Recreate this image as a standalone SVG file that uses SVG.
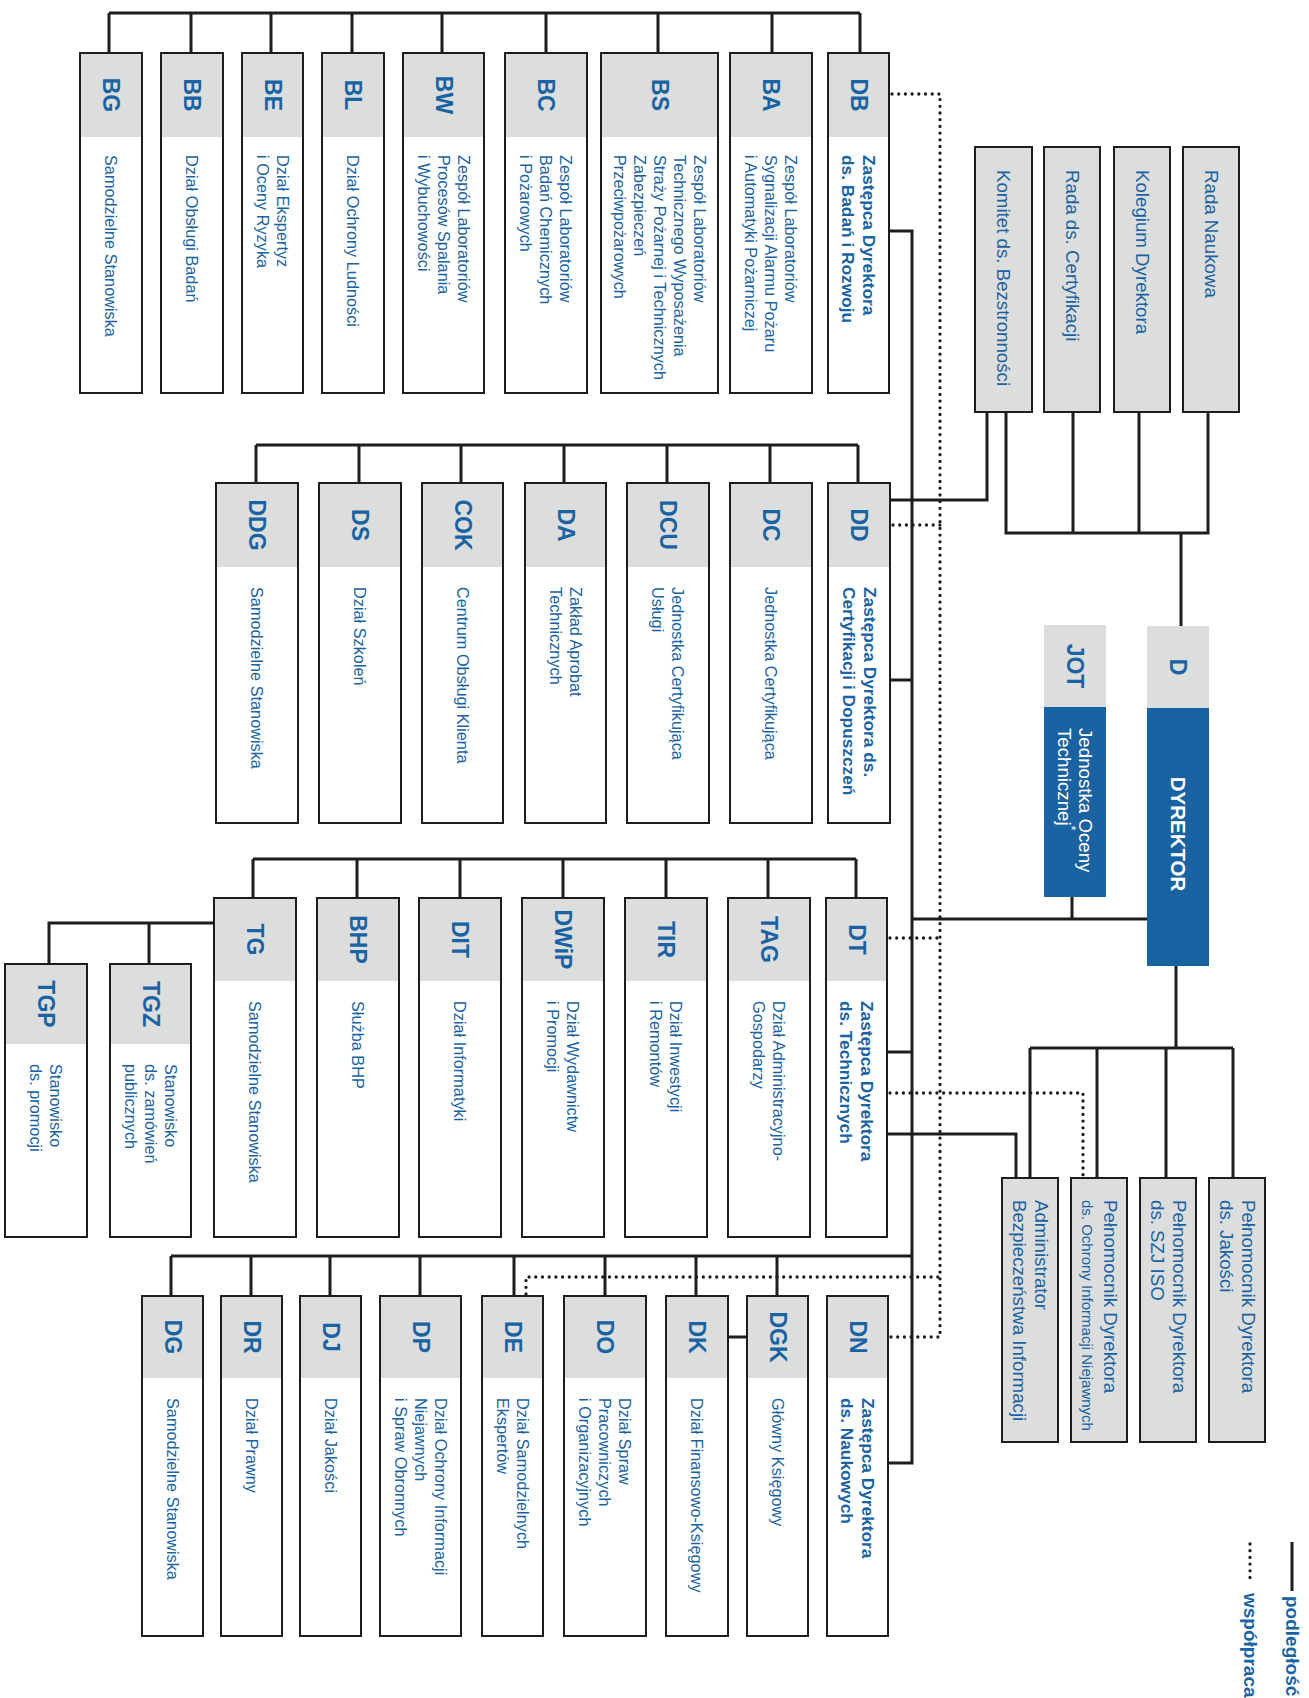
<svg xmlns="http://www.w3.org/2000/svg" width="1309" height="1698" viewBox="0 0 1309 1698">
<style>
.bx{fill:#fff;stroke:#1d1d1b;stroke-width:2}
.gb{fill:#dcdddd;stroke:#1d1d1b;stroke-width:2}
.hd{fill:#dcdddd}
.bl{fill:#1a63a2}
.ln{fill:none;stroke:#1d1d1b;stroke-width:3}
.dt{fill:none;stroke:#1d1d1b;stroke-width:3.3;stroke-dasharray:0 6.7;stroke-linecap:round}
text{font-family:"Liberation Sans",Arial,sans-serif;fill:#1a63a2;dominant-baseline:central}
.c{font-size:23px;font-weight:bold;text-anchor:middle}
.t{font-size:16.3px}
.b{font-size:17.3px;font-weight:bold}
.p{font-size:18.7px}
.s{font-size:15px}
.w{fill:#fff}
.lg{font-size:19px;font-weight:bold}
</style>
<g id="connectors">
<path class="ln" d="M109 13H860M109 13V53M191 13V53M271 13V53M352 13V53M442 13V53M546 13V53M658 13V53M772 13V53M860 13V53"/>
<path class="ln" d="M889 231H912V1463H888"/>
<path class="ln" d="M256 445H858M256 445V483M359 445V483M461 445V483M564 445V483M667 445V483M770 445V483M858 445V483"/>
<path class="ln" d="M987 412V500H890"/>
<path class="ln" d="M890 680H912"/>
<path class="ln" d="M1006 412V533H1208V412M1073 412V533M1139 412V533M1181 533V626"/>
<path class="ln" d="M1072 897V919M912 919H1147"/>
<path class="ln" d="M253 859H856M253 859V898M357 859V898M460 859V898M563 859V898M666 859V898M768 859V898M856 859V898"/>
<path class="ln" d="M214 923H49V964M149 923V964"/>
<path class="ln" d="M887 1052H912"/>
<path class="ln" d="M887 1134H1016V1178"/>
<path class="ln" d="M1176 966V1048M1030 1048H1233M1030 1048V1178M1097 1048V1178M1166 1048V1178M1233 1048V1178"/>
<path class="ln" d="M171 1256H912M171 1256V1296M251 1256V1296M330 1256V1296M420 1256V1296M514 1256V1296M605 1256V1296M696 1256V1296M777 1256V1296"/>
<path class="ln" d="M728 1337H747"/>
<path class="dt" d="M892 94H940V1337H891"/>
<path class="dt" d="M893 525H940"/>
<path class="dt" d="M890 938H940"/>
<path class="dt" d="M890 1093H1083V1178"/>
<path class="dt" d="M526 1294V1277H940"/>
</g>
<g id="BG"><rect class="bx" x="80" y="53" width="62" height="340"/><rect class="hd" x="81" y="54" width="60" height="83"/><text class="c" transform="translate(111,95) rotate(90)">BG</text><text class="t" transform="translate(111,155) rotate(90)">Samodzielne Stanowiska</text></g>
<g id="BB"><rect class="bx" x="161" y="53" width="62" height="340"/><rect class="hd" x="162" y="54" width="60" height="83"/><text class="c" transform="translate(192,95) rotate(90)">BB</text><text class="t" transform="translate(192,155) rotate(90)">Dział Obsługi Badań</text></g>
<g id="BE"><rect class="bx" x="242" y="53" width="61" height="340"/><rect class="hd" x="243" y="54" width="59" height="83"/><text class="c" transform="translate(272.5,95) rotate(90)">BE</text><text class="t" transform="translate(282.5,155) rotate(90)">Dział Ekspertyz</text><text class="t" transform="translate(262.5,155) rotate(90)">i Oceny Ryzyka</text></g>
<g id="BL"><rect class="bx" x="322" y="53" width="62" height="340"/><rect class="hd" x="323" y="54" width="60" height="83"/><text class="c" transform="translate(353,95) rotate(90)">BL</text><text class="t" transform="translate(353,155) rotate(90)">Dział Ochrony Ludności</text></g>
<g id="BW"><rect class="bx" x="403" y="53" width="81" height="340"/><rect class="hd" x="404" y="54" width="79" height="83"/><text class="c" transform="translate(443.5,95) rotate(90)">BW</text><text class="t" transform="translate(463.5,155) rotate(90)">Zespół Laboratoriów</text><text class="t" transform="translate(443.5,155) rotate(90)">Procesów Spalania</text><text class="t" transform="translate(423.5,155) rotate(90)">i Wybuchowości</text></g>
<g id="BC"><rect class="bx" x="505" y="53" width="82" height="340"/><rect class="hd" x="506" y="54" width="80" height="83"/><text class="c" transform="translate(546,95) rotate(90)">BC</text><text class="t" transform="translate(566,155) rotate(90)">Zespół Laboratoriów</text><text class="t" transform="translate(546,155) rotate(90)">Badań Chemicznych</text><text class="t" transform="translate(526,155) rotate(90)">i Pożarowych</text></g>
<g id="BS"><rect class="bx" x="601" y="53" width="117" height="340"/><rect class="hd" x="602" y="54" width="115" height="83"/><text class="c" transform="translate(659.5,95) rotate(90)">BS</text><text class="t" transform="translate(699.5,155) rotate(90)">Zespół Laboratoriów</text><text class="t" transform="translate(679.5,155) rotate(90)">Technicznego Wyposażenia</text><text class="t" transform="translate(659.5,155) rotate(90)">Straży Pożarnej i Technicznych</text><text class="t" transform="translate(639.5,155) rotate(90)">Zabezpieczeń</text><text class="t" transform="translate(619.5,155) rotate(90)">Przeciwpożarowych</text></g>
<g id="BA"><rect class="bx" x="730" y="53" width="82" height="340"/><rect class="hd" x="731" y="54" width="80" height="83"/><text class="c" transform="translate(771,95) rotate(90)">BA</text><text class="t" transform="translate(791,155) rotate(90)">Zespół Laboratoriów</text><text class="t" transform="translate(771,155) rotate(90)">Sygnalizacji Alarmu Pożaru</text><text class="t" transform="translate(751,155) rotate(90)">i Automatyki Pożarniczej</text></g>
<g id="DB"><rect class="bx" x="828" y="53" width="61" height="340"/><rect class="hd" x="829" y="54" width="59" height="83"/><text class="c" transform="translate(858.5,95) rotate(90)">DB</text><text class="b" transform="translate(869,155) rotate(90)">Zastępca Dyrektora</text><text class="b" transform="translate(848,155) rotate(90)">ds. Badań i Rozwoju</text></g>
<g id="Komitet"><rect class="gb" x="975" y="147" width="57" height="265"/><text class="p" transform="translate(1003.5,170) rotate(90)">Komitet ds. Bezstronności</text></g>
<g id="RadaCert"><rect class="gb" x="1044" y="147" width="56" height="265"/><text class="p" transform="translate(1072,170) rotate(90)">Rada ds. Certyfikacji</text></g>
<g id="Kolegium"><rect class="gb" x="1114" y="147" width="56" height="265"/><text class="p" transform="translate(1142,170) rotate(90)">Kolegium Dyrektora</text></g>
<g id="RadaNaukowa"><rect class="gb" x="1183" y="147" width="56" height="265"/><text class="p" transform="translate(1211,170) rotate(90)">Rada Naukowa</text></g>
<g id="DDG"><rect class="bx" x="216" y="483" width="82" height="340"/><rect class="hd" x="217" y="484" width="80" height="83"/><text class="c" transform="translate(257,525) rotate(90)">DDG</text><text class="t" transform="translate(257,587) rotate(90)">Samodzielne Stanowiska</text></g>
<g id="DS"><rect class="bx" x="319" y="483" width="82" height="340"/><rect class="hd" x="320" y="484" width="80" height="83"/><text class="c" transform="translate(360,525) rotate(90)">DS</text><text class="t" transform="translate(360,587) rotate(90)">Dział Szkoleń</text></g>
<g id="COK"><rect class="bx" x="422" y="483" width="81" height="340"/><rect class="hd" x="423" y="484" width="79" height="83"/><text class="c" transform="translate(462.5,525) rotate(90)">COK</text><text class="t" transform="translate(462.5,587) rotate(90)">Centrum Obsługi Klienta</text></g>
<g id="DA"><rect class="bx" x="525" y="483" width="81" height="340"/><rect class="hd" x="526" y="484" width="79" height="83"/><text class="c" transform="translate(565.5,525) rotate(90)">DA</text><text class="t" transform="translate(575.5,587) rotate(90)">Zakład Aprobat</text><text class="t" transform="translate(555.5,587) rotate(90)">Technicznych</text></g>
<g id="DCU"><rect class="bx" x="627" y="483" width="82" height="340"/><rect class="hd" x="628" y="484" width="80" height="83"/><text class="c" transform="translate(668,525) rotate(90)">DCU</text><text class="t" transform="translate(678,587) rotate(90)">Jednostka Certyfikująca</text><text class="t" transform="translate(658,587) rotate(90)">Usługi</text></g>
<g id="DC"><rect class="bx" x="730" y="483" width="82" height="340"/><rect class="hd" x="731" y="484" width="80" height="83"/><text class="c" transform="translate(771,525) rotate(90)">DC</text><text class="t" transform="translate(771,587) rotate(90)">Jednostka Certyfikująca</text></g>
<g id="DD"><rect class="bx" x="828" y="483" width="62" height="340"/><rect class="hd" x="829" y="484" width="60" height="83"/><text class="c" transform="translate(859,525) rotate(90)">DD</text><text class="b" transform="translate(869.5,587) rotate(90)">Zastępca Dyrektora ds.</text><text class="b" transform="translate(848.5,587) rotate(90)">Certyfikacji i Dopuszczeń</text></g>
<g id="JOT"><rect class="hd" x="1044" y="625" width="62" height="82"/><rect class="bl" x="1044" y="707" width="62" height="190"/><text class="c" transform="translate(1075,666) rotate(90)">JOT</text><text class="p w" transform="translate(1085,728) rotate(90)">Jednostka Oceny</text><text class="p w" transform="translate(1064,728) rotate(90)">Technicznej<tspan font-size="12" baseline-shift="super">*</tspan></text></g>
<g id="D"><rect class="hd" x="1147" y="626" width="62" height="82"/><rect class="bl" x="1147" y="708" width="62" height="258"/><text class="c" transform="translate(1178,667) rotate(90)">D</text><text class="w" font-size="20.5" font-weight="bold" text-anchor="middle" transform="translate(1178,834) rotate(90)">DYREKTOR</text></g>
<g id="TGP"><rect class="bx" x="5" y="964" width="82" height="273"/><rect class="hd" x="6" y="965" width="80" height="79"/><text class="c" transform="translate(46,1004) rotate(90)">TGP</text><text class="t" transform="translate(56,1064) rotate(90)">Stanowisko</text><text class="t" transform="translate(36,1064) rotate(90)">ds. promocji</text></g>
<g id="TGZ"><rect class="bx" x="110" y="964" width="81" height="273"/><rect class="hd" x="111" y="965" width="79" height="79"/><text class="c" transform="translate(150.5,1004) rotate(90)">TGZ</text><text class="t" transform="translate(170.5,1064) rotate(90)">Stanowisko</text><text class="t" transform="translate(150.5,1064) rotate(90)">ds. zamówień</text><text class="t" transform="translate(130.5,1064) rotate(90)">publicznych</text></g>
<g id="TG"><rect class="bx" x="214" y="898" width="82" height="339"/><rect class="hd" x="215" y="899" width="80" height="82"/><text class="c" transform="translate(255,939.5) rotate(90)">TG</text><text class="t" transform="translate(255,1001) rotate(90)">Samodzielne Stanowiska</text></g>
<g id="BHP"><rect class="bx" x="317" y="898" width="82" height="339"/><rect class="hd" x="318" y="899" width="80" height="82"/><text class="c" transform="translate(358,939.5) rotate(90)">BHP</text><text class="t" transform="translate(358,1001) rotate(90)">Służba BHP</text></g>
<g id="DIT"><rect class="bx" x="419" y="898" width="82" height="339"/><rect class="hd" x="420" y="899" width="80" height="82"/><text class="c" transform="translate(460,939.5) rotate(90)">DIT</text><text class="t" transform="translate(460,1001) rotate(90)">Dział Informatyki</text></g>
<g id="DWiP"><rect class="bx" x="522" y="898" width="82" height="339"/><rect class="hd" x="523" y="899" width="80" height="82"/><text class="c" transform="translate(563,939.5) rotate(90)">DWiP</text><text class="t" transform="translate(573,1001) rotate(90)">Dział Wydawnictw</text><text class="t" transform="translate(553,1001) rotate(90)">i Promocji</text></g>
<g id="TIR"><rect class="bx" x="625" y="898" width="82" height="339"/><rect class="hd" x="626" y="899" width="80" height="82"/><text class="c" transform="translate(666,939.5) rotate(90)">TIR</text><text class="t" transform="translate(676,1001) rotate(90)">Dział Inwestycji</text><text class="t" transform="translate(656,1001) rotate(90)">i Remontów</text></g>
<g id="TAG"><rect class="bx" x="728" y="898" width="82" height="339"/><rect class="hd" x="729" y="899" width="80" height="82"/><text class="c" transform="translate(769,939.5) rotate(90)">TAG</text><text class="t" transform="translate(779,1001) rotate(90)">Dział Administracyjno-</text><text class="t" transform="translate(759,1001) rotate(90)">Gospodarzy</text></g>
<g id="DT"><rect class="bx" x="826" y="898" width="61" height="339"/><rect class="hd" x="827" y="899" width="59" height="82"/><text class="c" transform="translate(856.5,939.5) rotate(90)">DT</text><text class="b" transform="translate(867,1001) rotate(90)">Zastępca Dyrektora</text><text class="b" transform="translate(846,1001) rotate(90)">ds. Technicznych</text></g>
<g id="AdminBI"><rect class="gb" x="1002" y="1178" width="56" height="264"/><text class="p" transform="translate(1041,1200) rotate(90)">Administrator</text><text class="p" transform="translate(1019,1200) rotate(90)">Bezpieczeństwa Informacji</text></g>
<g id="PelnOchrony"><rect class="gb" x="1071" y="1178" width="56" height="264"/><text class="p" transform="translate(1110,1200) rotate(90)">Pełnomocnik Dyrektora</text><text class="s" transform="translate(1087,1200) rotate(90)">ds. Ochrony Informacji Niejawnych</text></g>
<g id="PelnSZJ"><rect class="gb" x="1140" y="1178" width="56" height="264"/><text class="p" transform="translate(1179,1200) rotate(90)">Pełnomocnik Dyrektora</text><text class="p" transform="translate(1157,1200) rotate(90)">ds. SZJ ISO</text></g>
<g id="PelnJakosci"><rect class="gb" x="1209" y="1178" width="56" height="264"/><text class="p" transform="translate(1248,1200) rotate(90)">Pełnomocnik Dyrektora</text><text class="p" transform="translate(1226,1200) rotate(90)">ds. Jakości</text></g>
<g id="DG"><rect class="bx" x="142" y="1296" width="61" height="340"/><rect class="hd" x="143" y="1297" width="59" height="81"/><text class="c" transform="translate(172.5,1337) rotate(90)">DG</text><text class="t" transform="translate(172.5,1398) rotate(90)">Samodzielne Stanowiska</text></g>
<g id="DR"><rect class="bx" x="221" y="1296" width="61" height="340"/><rect class="hd" x="222" y="1297" width="59" height="81"/><text class="c" transform="translate(251.5,1337) rotate(90)">DR</text><text class="t" transform="translate(251.5,1398) rotate(90)">Dział Prawny</text></g>
<g id="DJ"><rect class="bx" x="300" y="1296" width="61" height="340"/><rect class="hd" x="301" y="1297" width="59" height="81"/><text class="c" transform="translate(330.5,1337) rotate(90)">DJ</text><text class="t" transform="translate(330.5,1398) rotate(90)">Dział Jakości</text></g>
<g id="DP"><rect class="bx" x="380" y="1296" width="81" height="340"/><rect class="hd" x="381" y="1297" width="79" height="81"/><text class="c" transform="translate(420.5,1337) rotate(90)">DP</text><text class="t" transform="translate(440.5,1398) rotate(90)">Dział Ochrony Informacji</text><text class="t" transform="translate(420.5,1398) rotate(90)">Niejawnych</text><text class="t" transform="translate(400.5,1398) rotate(90)">i Spraw Obronnych</text></g>
<g id="DE"><rect class="bx" x="482" y="1296" width="61" height="340"/><rect class="hd" x="483" y="1297" width="59" height="81"/><text class="c" transform="translate(512.5,1337) rotate(90)">DE</text><text class="t" transform="translate(522.5,1398) rotate(90)">Dział Samodzielnych</text><text class="t" transform="translate(502.5,1398) rotate(90)">Ekspertów</text></g>
<g id="DO"><rect class="bx" x="564" y="1296" width="82" height="340"/><rect class="hd" x="565" y="1297" width="80" height="81"/><text class="c" transform="translate(605,1337) rotate(90)">DO</text><text class="t" transform="translate(625,1398) rotate(90)">Dział Spraw</text><text class="t" transform="translate(605,1398) rotate(90)">Pracowniczych</text><text class="t" transform="translate(585,1398) rotate(90)">i Organizacyjnych</text></g>
<g id="DK"><rect class="bx" x="666" y="1296" width="62" height="340"/><rect class="hd" x="667" y="1297" width="60" height="81"/><text class="c" transform="translate(697,1337) rotate(90)">DK</text><text class="t" transform="translate(697,1398) rotate(90)">Dział Finansowo-Księgowy</text></g>
<g id="DGK"><rect class="bx" x="747" y="1296" width="61" height="340"/><rect class="hd" x="748" y="1297" width="59" height="81"/><text class="c" transform="translate(777.5,1337) rotate(90)">DGK</text><text class="t" transform="translate(777.5,1398) rotate(90)">Główny Księgowy</text></g>
<g id="DN"><rect class="bx" x="827" y="1296" width="61" height="340"/><rect class="hd" x="828" y="1297" width="59" height="81"/><text class="c" transform="translate(857.5,1337) rotate(90)">DN</text><text class="b" transform="translate(868,1398) rotate(90)">Zastępca Dyrektora</text><text class="b" transform="translate(847,1398) rotate(90)">ds. Naukowych</text></g>
<g id="legend">
<path class="ln" d="M1292 1542V1591"/>
<path class="dt" d="M1250 1544V1584"/>
<text class="lg" transform="translate(1292,1596) rotate(90)">podległość</text>
<text class="lg" transform="translate(1250,1593) rotate(90)">współpraca</text>
</g>
</svg>
